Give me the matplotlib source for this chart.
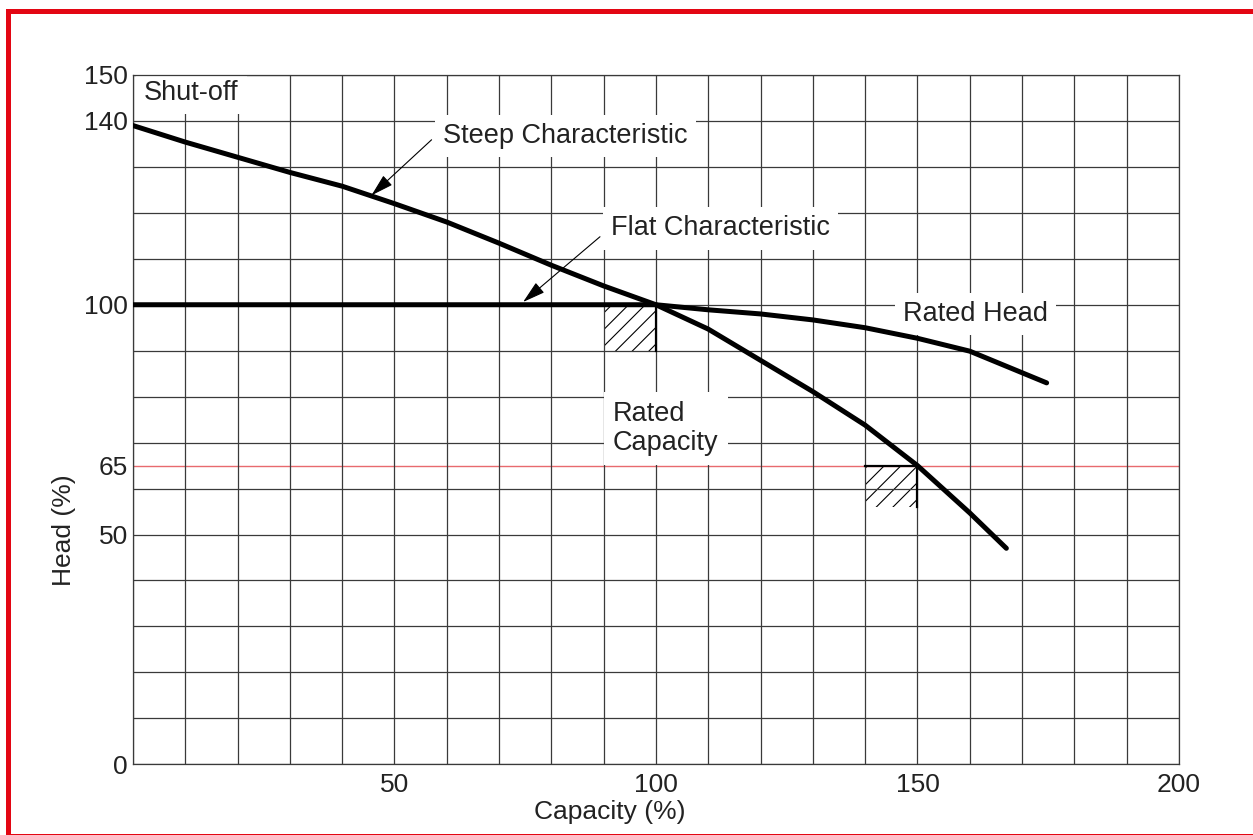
import numpy as np
import matplotlib.pyplot as plt
from matplotlib.patches import Rectangle

plt.rcParams['font.family'] = ['Liberation Sans', 'DejaVu Sans']
plt.rcParams['hatch.linewidth'] = 0.8

# pump curves (capacity %, head %)
steep_x = [0, 10, 20, 30, 40, 50, 60, 70, 80, 90, 100, 110, 120, 130, 140, 150, 160, 167]
steep_y = [139, 135.4, 132.1, 128.8, 125.8, 122.0, 118.0, 113.4, 108.6, 104.1, 100,
           94.7, 87.9, 81.1, 73.8, 65, 54.7, 47]

flat_x = [0, 100, 110, 120, 130, 140, 150, 160, 174.7]
flat_y = [100, 100, 98.9, 98.0, 96.7, 95.0, 92.7, 89.9, 83.0]

# hatched rated zones: (x0, y0, width, height)
rated_boxes = [(90, 90, 10, 10), (140, 56, 10, 9)]
limit_head = 65

xtick_vals = [50, 100, 150, 200]
ytick_vals = [0, 50, 65, 100, 140, 150]

txt = '#222222'
grid_c = '#3a3a3a'
fs_ann = 19.5
fs_ax = 19

fig = plt.figure(figsize=(12.53, 8.35), dpi=100)
ax = fig.add_axes([0.1061, 0.0847, 0.8348, 0.8255])
ax.set_xlim(0, 200)
ax.set_ylim(0, 150)

# grid every 10 %
ax.set_xticks(np.arange(0, 201, 10), minor=True)
ax.set_yticks(np.arange(0, 151, 10), minor=True)
ax.xaxis.remove_overlapping_locs = False
ax.yaxis.remove_overlapping_locs = False
ax.grid(which='minor', color=grid_c, lw=0.9, zorder=0)
ax.set_xticks(xtick_vals)
ax.set_yticks(ytick_vals)
ax.tick_params(which='both', length=0, labelsize=fs_ax, labelcolor=txt)
ax.tick_params(axis='x', pad=6)
ax.tick_params(axis='y', pad=3.5)
for s in ax.spines.values():
    s.set_color(grid_c)
    s.set_linewidth(0.9)

ax.axhline(limit_head, color='#e86a6e', lw=1.0, zorder=1)

for (bx, by, bw, bh) in rated_boxes:
    ax.add_patch(Rectangle((bx, by), bw, bh, fill=False, hatch='//', edgecolor='black',
                           lw=0, zorder=1.5))
    ax.plot([bx, bx + bw, bx + bw], [by + bh, by + bh, by], color='black', lw=1.6, zorder=1.6)

ax.plot(steep_x, steep_y, color='black', lw=3.6, solid_capstyle='round', zorder=3)
ax.plot(flat_x, flat_y, color='black', lw=3.6, solid_capstyle='round', zorder=3)

box = dict(boxstyle='square,pad=0.3', facecolor='white', edgecolor='none')
ax.text(2.1, 146, 'Shut-off', fontsize=fs_ann, color=txt, va='center', ha='left', bbox=box, zorder=2)
ax.text(59.3, 136.8, 'Steep Characteristic', fontsize=fs_ann, color=txt, va='center', ha='left',
        bbox=box, zorder=2)
ax.text(91.5, 116.6, 'Flat Characteristic', fontsize=fs_ann, color=txt, va='center', ha='left',
        bbox=box, zorder=2)
ax.text(147.3, 98.0, 'Rated Head', fontsize=fs_ann, color=txt, va='center', ha='left',
        bbox=box, zorder=2)
ax.text(91.8, 73.1, 'Rated\nCapacity', fontsize=fs_ann, color=txt, va='center', ha='left',
        linespacing=1.12, bbox=dict(boxstyle='square,pad=0.35', facecolor='white', edgecolor='none'),
        zorder=2)

arrow = dict(arrowstyle='-|>,head_length=0.7,head_width=0.2', color='black', lw=0.8,
             shrinkA=0, shrinkB=0, mutation_scale=20)
ax.annotate('', xy=(45.6, 123.8), xytext=(57.1, 135.9), arrowprops=arrow, zorder=2.5)
ax.annotate('', xy=(74.6, 100.6), xytext=(89.3, 114.8), arrowprops=arrow, zorder=2.5)

ax.set_xlabel('Capacity (%)', fontsize=fs_ax, color=txt)
ax.xaxis.set_label_coords(0.456, -0.052)
ax.set_ylabel('Head (%)', fontsize=fs_ax, color=txt)
ax.yaxis.set_label_coords(-0.054, 0.34)

# red border around the figure
fig.patches.append(Rectangle((0.0064, -0.001), 1.0, 0.9878, transform=fig.transFigure,
                             fill=False, edgecolor='#e30613', lw=3.6))

fig.savefig('out.png', dpi=100)
